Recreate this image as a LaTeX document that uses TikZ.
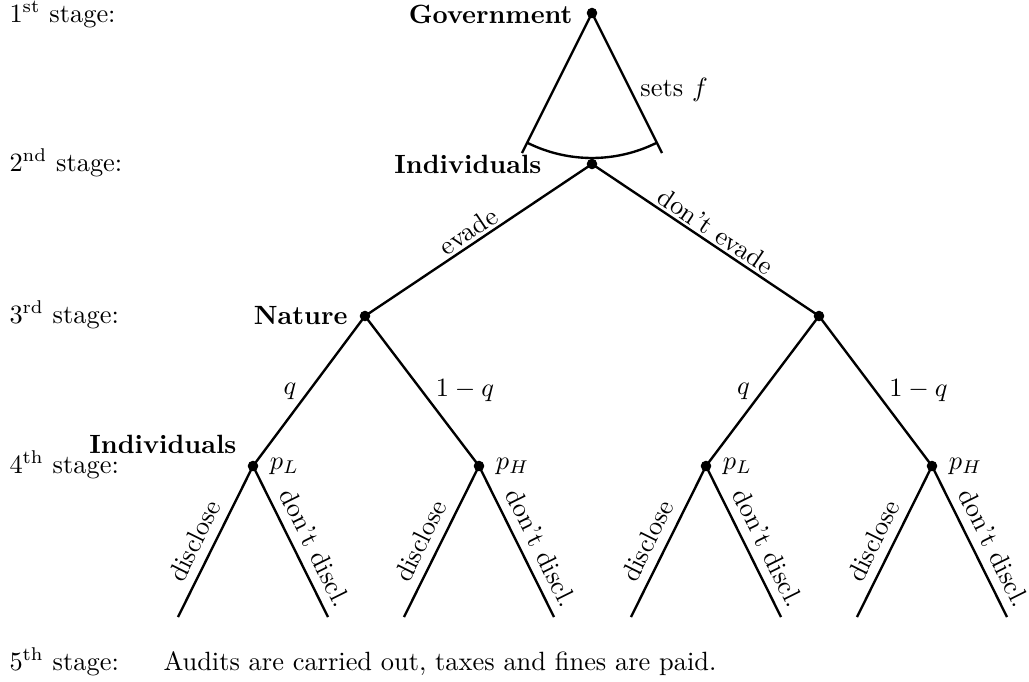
\documentclass[tikz,border=0pt]{standalone}
\begin{document}
\begin{tikzpicture}[x=0.3788pt, y=-0.3788pt,
  dot/.style={circle, fill, inner sep=0pt, minimum size=4pt},
  edge/.style={line width=0.9pt},
  player/.style={font=\bfseries, inner sep=0pt},
  stagelbl/.style={anchor=base west, inner sep=0pt},
  plab/.style={anchor=west, inner sep=0pt},
]
\useasboundingbox (0,0) rectangle (1029,681);

% decision nodes
\node[dot] (gov) at (592,13) {};
\node[dot] (ind) at (592,164) {};
\node[dot] (nat) at (365,316) {};
\node[dot] (rt)  at (819,316) {};
\node[dot] (a) at (253,466) {};
\node[dot] (b) at (479,466) {};
\node[dot] (c) at (706,466) {};
\node[dot] (d) at (932,466) {};

% free ends
\coordinate (gl) at (522,153);
\coordinate (gr) at (662,153);
\coordinate (a1) at (178,617); \coordinate (a2) at (328,617);
\coordinate (b1) at (404,617); \coordinate (b2) at (554,617);
\coordinate (c1) at (631,617); \coordinate (c2) at (781,617);
\coordinate (d1) at (857,617); \coordinate (d2) at (1007,617);

% stage 1
\draw[edge] (gov.center) -- (gl);
\draw[edge] (gov.center) -- node[right, pos=0.55] (setf) {sets $f$} (gr);
\draw[edge] ([shift={(116.57:145)}]gov.center) arc[start angle=116.57, end angle=63.43, radius=145];

% stage 2
\draw[edge] (nat.center) -- node[sloped, above, pos=0.487, inner sep=1pt] (lev) {evade} (ind.center);
\draw[edge] (ind.center) -- node[sloped, above, pos=0.514, inner sep=1pt] (lde) {don't evade} (rt.center);

% stage 3
\draw[edge] (nat.center) -- node[left, pos=0.5, inner sep=4.3pt] (qa) {$q$} (a.center);
\draw[edge] (nat.center) -- node[right, pos=0.5, inner sep=4.8pt] (qb) {$1-q$} (b.center);
\draw[edge] (rt.center) -- node[left, pos=0.5, inner sep=4.3pt] (qc) {$q$} (c.center);
\draw[edge] (rt.center) -- node[right, pos=0.5, inner sep=4.8pt] (qd) {$1-q$} (d.center);

% stage 4
\foreach \n/\lf/\rg in {a/a1/a2, b/b1/b2, c/c1/c2, d/d1/d2} {
  \draw[edge] (\lf) -- node[sloped, above, pos=0.447] (dis\n) {disclose} (\n.center);
  \draw[edge] (\n.center) -- node[sloped, above, pos=0.6] (dd\n) {don't discl.} (\rg);
}

% probabilities
\node[plab] (pa) at ([xshift=4pt]a.east) {$p_L$};
\node[plab] (pb) at ([xshift=4pt]b.east) {$p_H$};
\node[plab] (pc) at ([xshift=4pt]c.east) {$p_L$};
\node[plab] (pd) at ([xshift=4pt]d.east) {$p_H$};

% players
\node[player, anchor=east] (lgov) at (573,14) {Government};
\node[player, anchor=east] (lind) at (542,164) {Individuals};
\node[player, anchor=east] (lnat) at (348,316) {Nature};
\node[player, anchor=east] (lind4) at (237,444) {Individuals};

% stages
\node[stagelbl] (s1) at (9,22) {1\textsuperscript{st} stage:};
\node[stagelbl] (s2) at (9,171) {2\textsuperscript{nd} stage:};
\node[stagelbl] (s3) at (9,323) {3\textsuperscript{rd} stage:};
\node[stagelbl] (s4) at (9,473) {4\textsuperscript{th} stage:};
\node[stagelbl] (s5) at (9,670) {5\textsuperscript{th} stage:};
\node[stagelbl] (audit) at (163,670) {Audits are carried out, taxes and fines are paid.};
\end{tikzpicture}
\end{document}
